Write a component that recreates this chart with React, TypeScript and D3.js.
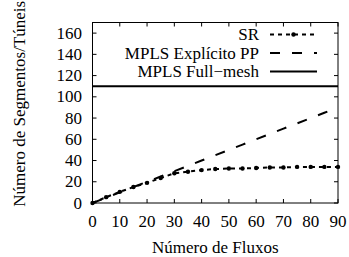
import React from "react";
import * as d3 from "d3";

const flows = [0, 5, 10, 15, 20, 25, 30, 35, 40, 45, 50, 55, 60, 65, 70, 75, 80, 85, 90];
const srValues = [0, 5.5, 10.5, 15, 19, 23.5, 28, 29.5, 31, 32, 32.5, 32.5, 33, 33.5, 33.5, 34, 34, 34, 34];
const ppValues = [0, 5, 10, 15, 20, 25, 30, 35, 40, 45, 50, 55, 60, 65, 70, 75, 80, 85, 90];
const fullMeshValues = [110, 110, 110, 110, 110, 110, 110, 110, 110, 110, 110, 110, 110, 110, 110, 110, 110, 110, 110];

const xTicks = [0, 10, 20, 30, 40, 50, 60, 70, 80, 90];
const yTicks = [0, 20, 40, 60, 80, 100, 120, 140, 160];

const legendLabels = ["SR", "MPLS Explícito PP", "MPLS Full\u2212mesh"];

const width = 349;
const height = 257;
const left = 92.5;
const right = 338;
const top = 22.5;
const bottom = 203;
const tick = 4;

const x = d3.scaleLinear().domain([0, 90]).range([left, right]);
const y = d3.scaleLinear().domain([0, 170]).range([bottom, top]);

const line = d3
  .line<number>()
  .x((_, i) => x(flows[i]))
  .y((d) => y(d));

const legendY = [34.5, 53, 71.5];
const sampleX0 = 270;
const sampleX1 = 317;

// inline style so nothing else can override the serif face
const txtStyle: React.CSSProperties = {
  fontFamily: '"Liberation Serif", "Times New Roman", Times, serif',
  fontSize: "17px",
};

function Label(props: React.SVGProps<SVGTextElement>) {
  return <text {...props} fontFamily="Liberation Serif" fontSize={17} fill="#000" style={txtStyle} />;
}

export default function App() {
  return (
    <svg
      width={width}
      height={height}
      style={{ position: "absolute", left: 0, top: 0, display: "block", background: "#fff", ...txtStyle }}
    >
      {/* ticks, inward and mirrored */}
      {xTicks.map((t) => (
        <g key={"x" + t}>
          <line x1={x(t)} x2={x(t)} y1={bottom} y2={bottom - tick} stroke="#000" />
          <line x1={x(t)} x2={x(t)} y1={top} y2={top + tick} stroke="#000" />
          <Label x={x(t)} y={227} textAnchor="middle">{t}</Label>
        </g>
      ))}
      {yTicks.map((t) => (
        <g key={"y" + t}>
          <line x1={left} x2={left + tick} y1={y(t)} y2={y(t)} stroke="#000" />
          <line x1={right} x2={right - tick} y1={y(t)} y2={y(t)} stroke="#000" />
          <Label x={82} y={y(t) + 5.5} textAnchor="end">{t}</Label>
        </g>
      ))}

      <rect x={left} y={top} width={right - left} height={bottom - top} fill="none" stroke="#000" />

      {/* full-mesh */}
      <path d={line(fullMeshValues) ?? ""} fill="none" stroke="#000" strokeWidth={2} />
      {/* explicito PP */}
      <path d={line(ppValues) ?? ""} fill="none" stroke="#000" strokeWidth={2} strokeDasharray="10,12" />
      {/* SR */}
      <path d={line(srValues) ?? ""} fill="none" stroke="#000" strokeWidth={2} strokeDasharray="4,4" />
      {srValues.map((v, i) => (
        <circle key={i} cx={x(flows[i])} cy={y(v)} r={2.2} fill="#000" />
      ))}

      {/* legend */}
      {legendLabels.map((label, i) => (
        <g key={label}>
          <Label x={259} y={legendY[i] + 5.5} textAnchor="end">{label}</Label>
          <line
            x1={sampleX0}
            x2={sampleX1}
            y1={legendY[i]}
            y2={legendY[i]}
            stroke="#000"
            strokeWidth={2}
            strokeDasharray={i === 0 ? "4,4" : i === 1 ? "10,12" : undefined}
          />
          {i === 0 && <circle cx={(sampleX0 + sampleX1) / 2} cy={legendY[i]} r={2.2} fill="#000" />}
        </g>
      ))}

      <Label x={(left + right) / 2} y={253} textAnchor="middle">Número de Fluxos</Label>
      <Label transform={`translate(25,${(top + bottom) / 2 - 9}) rotate(-90)`} textAnchor="middle">
        Número de Segmentos/Túneis
      </Label>
    </svg>
  );
}
